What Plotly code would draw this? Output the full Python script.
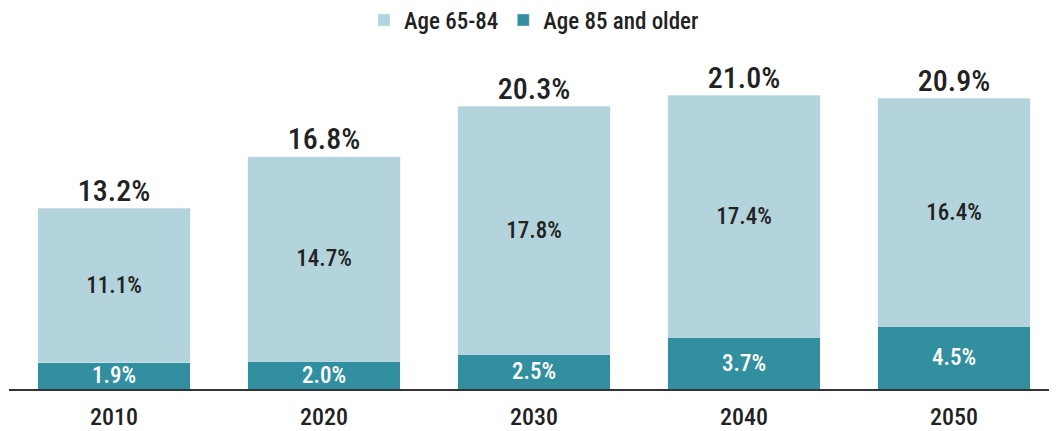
import plotly.graph_objects as go

years = ["2010", "2020", "2030", "2040", "2050"]
age_65_84 = [11.1, 14.7, 17.8, 17.4, 16.4]
age_85_plus = [1.9, 2.0, 2.5, 3.7, 4.5]
totals = [13.2, 16.8, 20.3, 21.0, 20.9]

FONT = "Roboto Condensed, Liberation Sans Narrow, Roboto, sans-serif"
LIGHT = "#b3d4dc"
TEAL = "#318f9f"
INK = "#222222"

fig = go.Figure()

fig.add_trace(go.Bar(
    x=years, y=age_85_plus,
    name="Age 85 and older",
    marker_color=TEAL,
    text=[f"{v:.1f}%" for v in age_85_plus],
    textposition="inside",
    insidetextanchor="middle",
    constraintext="none",
    textfont=dict(color="white", size=23, family=FONT, weight=500),
))

fig.add_trace(go.Bar(
    x=years, y=age_65_84,
    name="Age 65-84",
    marker_color=LIGHT,
    text=[f"{v:.1f}%" for v in age_65_84],
    textposition="inside",
    insidetextanchor="middle",
    constraintext="none",
    textfont=dict(color=INK, size=23, family=FONT, weight=500),
))

# totals above stacked bars
stack_top = [a + b for a, b in zip(age_65_84, age_85_plus)]
fig.add_trace(go.Scatter(
    x=years, y=stack_top,
    mode="text",
    text=[f"{v:.1f}%" for v in totals],
    textposition="top center",
    textfont=dict(color=INK, size=30, family=FONT, weight=500),
    showlegend=False,
    hoverinfo="skip",
))

# the page body has an 8px margin, so margins are offset to compensate
fig.update_layout(
    barmode="stack",
    bargap=0.276,
    width=1057, height=431,
    margin=dict(l=1, r=6, t=42, b=50, autoexpand=False),
    plot_bgcolor="white",
    paper_bgcolor="white",
    font=dict(family=FONT, color=INK, size=22, weight=500),
    legend=dict(
        orientation="h", traceorder="reversed",
        x=0.5, xanchor="center", y=0.972, yanchor="middle",
        yref="container",
        font=dict(size=23, family=FONT, weight=500),
        itemwidth=30,
    ),
    xaxis=dict(
        showline=True, linecolor="#333333", linewidth=2,
        ticks="", ticklen=0, ticklabelstandoff=5,
        tickfont=dict(size=24, family=FONT, weight=500),
    ),
    yaxis=dict(
        range=[0, 24.35], visible=False, showgrid=False, zeroline=False,
    ),
)

fig.write_html("out.html")
